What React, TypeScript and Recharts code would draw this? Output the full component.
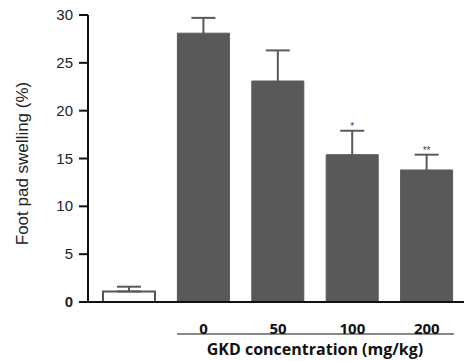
import { BarChart, Bar, XAxis, YAxis, ErrorBar, LabelList, Cell } from "recharts";

const groups = ["", "0", "50", "100", "200"];
const swelling = [1.1, 28.1, 23.1, 15.4, 13.8];
const sem = [0.5, 1.6, 3.2, 2.5, 1.6];
const marks = ["", "", "", "*", "**"];
const yTicks = [0, 5, 10, 15, 20, 25, 30];

// lower half of the SEM is hidden inside the filled bars; the open control bar shows only the upper half
const data = groups.map((g, i) => ({
  group: g,
  value: swelling[i],
  err: [i === 0 ? 0 : sem[i], sem[i]],
  sig: marks[i],
}));

const YTick = (props: any) => {
  const { x, y, payload } = props;
  return (
    <text
      x={x}
      y={y}
      dy={5}
      textAnchor="end"
      fontSize={15}
      fontFamily="Liberation Sans, Arial"
      fontWeight={payload.value === 0 ? "bold" : "normal"}
      fill="#222"
    >
      {payload.value}
    </text>
  );
};

const XTick = (props: any) => {
  const { x, y, payload } = props;
  return (
    <text
      x={x}
      y={y}
      dy={24}
      textAnchor="middle"
      fontSize={15}
      fontFamily="Open Sans, Noto Sans"
      fontWeight="bold"
      fill="#111"
    >
      {payload.value}
    </text>
  );
};

// asterisks sit just above the top of each error bar
const SigLabel = (props: any) => {
  const { x, y, width, height, value, index } = props;
  if (!value) return null;
  const errPx = (height / swelling[index]) * sem[index];
  return (
    <text
      x={x + width / 2}
      y={y - errPx - 1}
      textAnchor="middle"
      fontSize={10}
      fontFamily="Liberation Sans, Arial"
      fill="#445"
    >
      {value}
    </text>
  );
};

export default function App() {
  return (
    <div style={{ marginTop: -4 }}>
      <BarChart
        width={464}
        height={357}
        data={data}
        margin={{ top: 11, right: 0, bottom: 0, left: 0 }}
      >
        <XAxis
          dataKey="group"
          height={59}
          axisLine={{ stroke: "#111", strokeWidth: 2 }}
          tickLine={false}
          tick={<XTick />}
          padding={{ left: 4, right: 8 }}
          label={({ viewBox }: any) => (
            <g>
              <line
                x1={viewBox.x + 89}
                x2={viewBox.x + 366}
                y1={viewBox.y + 32}
                y2={viewBox.y + 32}
                stroke="#888"
                strokeWidth={2}
              />
              <text
                x={viewBox.x + 227}
                y={viewBox.y + 53}
                textAnchor="middle"
                fontSize={16}
                fontFamily="Open Sans, Noto Sans"
                fontWeight="bold"
                fill="#111"
              >
                GKD concentration (mg/kg)
              </text>
            </g>
          )}
        />
        <YAxis
          width={80}
          domain={[0, 30]}
          ticks={yTicks}
          interval={0}
          tickSize={9}
          tickMargin={6}
          axisLine={{ stroke: "#111", strokeWidth: 2 }}
          tickLine={{ stroke: "#111", strokeWidth: 2 }}
          tick={<YTick />}
          label={({ viewBox }: any) => {
            const cx = viewBox.x + 14;
            const cy = viewBox.y + viewBox.height / 2 + 5;
            return (
              <text
                x={cx}
                y={cy}
                transform={`rotate(-90 ${cx} ${cy})`}
                textAnchor="middle"
                dominantBaseline="central"
                fontSize={17}
                fontFamily="Liberation Sans, Arial"
                fill="#222"
              >
                Foot pad swelling (%)
              </text>
            );
          }}
        />
        <Bar dataKey="value" barSize={52} isAnimationActive={false}>
          {data.map((d, i) => (
            <Cell
              key={i}
              fill={i === 0 ? "#fff" : "#595959"}
              stroke={i === 0 ? "#555" : "#595959"}
              strokeWidth={i === 0 ? 2 : 1}
            />
          ))}
          <ErrorBar dataKey="err" width={12} stroke="#595959" strokeWidth={2} />
          <LabelList dataKey="sig" content={<SigLabel />} />
        </Bar>
      </BarChart>
    </div>
  );
}
